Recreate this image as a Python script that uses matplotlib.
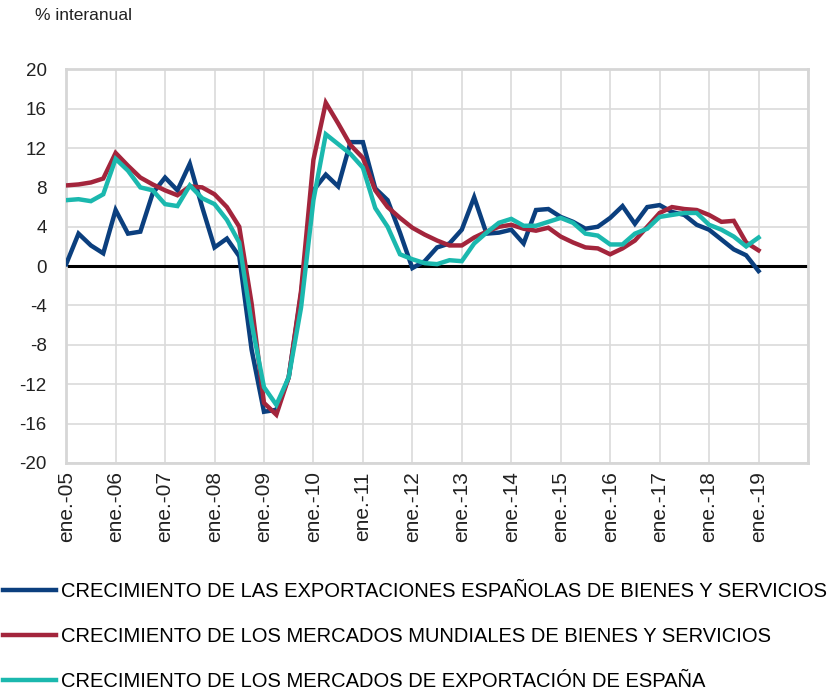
import numpy as np
import matplotlib
matplotlib.use('Agg')
from matplotlib import pyplot as plt

plt.rcParams['font.family'] = ['Liberation Sans', 'DejaVu Sans']
plt.rcParams['axes.unicode_minus'] = False

# quarterly, ene.-05 ... ene.-19
exportaciones = [0.2, 3.3, 2.1, 1.3, 5.7, 3.3, 3.5, 7.4,
                 9.0, 7.7, 10.4, 6.0, 1.9, 2.8, 1.0, -8.5,
                 -14.8, -14.6, -11.3, -2.8, 7.7, 9.3, 8.1, 12.6,
                 12.6, 7.9, 6.7, 3.4, -0.2, 0.5, 1.9, 2.3,
                 3.7, 7.0, 3.3, 3.4, 3.7, 2.3, 5.7, 5.8,
                 5.0, 4.5, 3.8, 4.0, 4.9, 6.1, 4.3, 6.0,
                 6.2, 5.5, 5.2, 4.2, 3.7, 2.7, 1.7, 1.1, -0.5]
mercados_mundiales = [8.2, 8.3, 8.5, 8.9, 11.5, 10.2, 9.0, 8.3,
                      7.7, 7.2, 8.1, 8.0, 7.3, 6.0, 4.0, -3.8,
                      -13.9, -15.1, -11.3, -2.5, 10.8, 16.6, 14.5, 12.3,
                      11.0, 7.7, 6.0, 4.9, 3.9, 3.2, 2.6, 2.1,
                      2.1, 2.9, 3.5, 4.0, 4.2, 3.8, 3.6, 3.9,
                      3.0, 2.4, 1.9, 1.8, 1.2, 1.8, 2.6, 4.0,
                      5.4, 6.0, 5.8, 5.7, 5.2, 4.5, 4.6, 2.4, 1.6]
mercados_espana = [6.7, 6.8, 6.6, 7.3, 10.9, 9.7, 8.0, 7.7,
                   6.3, 6.1, 8.2, 6.9, 6.3, 4.7, 2.4, -5.8,
                   -12.3, -14.1, -11.3, -4.2, 6.7, 13.4, 12.4, 11.4,
                   10.0, 5.9, 4.0, 1.2, 0.7, 0.3, 0.2, 0.6,
                   0.5, 2.3, 3.4, 4.4, 4.8, 4.1, 4.1, 4.5,
                   4.9, 4.4, 3.3, 3.1, 2.2, 2.2, 3.3, 3.8,
                   5.0, 5.2, 5.4, 5.4, 4.2, 3.7, 3.0, 2.0, 2.9]

years = list(range(2005, 2020))
tick_labels = ['ene.-%02d' % (y % 100) for y in years]

labels = ['CRECIMIENTO DE LAS EXPORTACIONES ESPAÑOLAS DE BIENES Y SERVICIOS',
          'CRECIMIENTO DE LOS MERCADOS MUNDIALES DE BIENES Y SERVICIOS',
          'CRECIMIENTO DE LOS MERCADOS DE EXPORTACIÓN DE ESPAÑA']
colors = ['#0b3f7e', '#a3253c', '#1bb8ae']


def plot():
    fig = plt.figure(figsize=(8.27, 6.93), dpi=100)
    ax = fig.add_axes([0.080, 0.332, 0.897, 0.568])

    t = 2005 + np.arange(len(exportaciones)) / 4.0
    lines = []
    for serie, c, lab in zip([exportaciones, mercados_mundiales, mercados_espana], colors, labels):
        l, = ax.plot(t, serie, color=c, lw=3.2, label=lab, solid_joinstyle='miter', zorder=3)
        lines.append(l)
    ax.axhline(0, color='black', lw=2.2, zorder=2)

    ax.set_xlim(2005, 2020)
    ax.set_ylim(-20, 20)
    ax.set_yticks(range(-20, 21, 4))
    ax.set_xticks(years + [2020])
    ax.set_xticklabels(tick_labels + [''], rotation=90)
    ax.tick_params(axis='both', length=0, colors='#222222')
    ax.tick_params(axis='y', pad=14, labelsize=13.5)
    ax.tick_params(axis='x', pad=6, labelsize=15)
    ax.grid(True, color='#dadada', lw=1.2)
    ax.set_axisbelow(True)
    for s in ax.spines.values():
        s.set_color('#d6d6d6')
        s.set_linewidth(2)

    fig.text(0.042, 0.978, '% interanual', fontsize=12.5, color='#222222', va='center')

    fig.legend(handles=lines, loc='upper left', bbox_to_anchor=(0.004, 0.160),
               frameon=False, fontsize=14.5, handlelength=2.6, handletextpad=0.25,
               labelspacing=1.3, borderaxespad=0, borderpad=0)

    fig.savefig('out.png', dpi=100)


def main():
    plot()


if __name__ == '__main__':
    main()
